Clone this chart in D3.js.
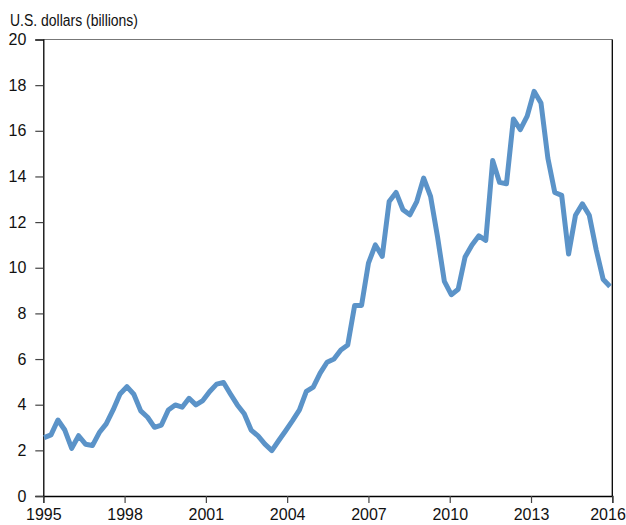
<!DOCTYPE html>
<html>
<head>
<meta charset="utf-8">
<script src="https://cdn.jsdelivr.net/npm/d3@7"></script>
<style>
  body { margin: 0; background: #fff; }
  text { font-family: "Liberation Sans Narrow", "Arial Narrow", "Liberation Sans", sans-serif; fill: #111; }
</style>
</head>
<body>
<svg id="chart" width="626" height="525"></svg>
<script>
// quarterly values, 1995Q1 onward (U.S. dollars, billions)
const values = [
  2.56, 2.68, 3.33, 2.89, 2.09, 2.64, 2.27, 2.21, 2.78, 3.16,
  3.77, 4.47, 4.79, 4.46, 3.73, 3.45, 3.01, 3.11, 3.77, 3.99,
  3.89, 4.28, 3.99, 4.18, 4.58, 4.90, 4.97, 4.47, 3.99, 3.60,
  2.89, 2.63, 2.27, 1.99, 2.43, 2.86, 3.30, 3.77, 4.58, 4.77,
  5.38, 5.86, 6.00, 6.40, 6.62, 8.35, 8.35, 10.20, 11.00, 10.50,
  12.90, 13.30, 12.54, 12.32, 12.90, 13.93, 13.13, 11.37, 9.40, 8.82,
  9.06, 10.47, 11.00, 11.40, 11.20, 14.70, 13.74, 13.68, 16.52, 16.05,
  16.64, 17.73, 17.22, 14.80, 13.30, 13.17, 10.60, 12.30, 12.80, 12.30,
  10.79, 9.50, 9.18
];
const startYear = 1995;
const quarters = values.map((v, i) => (startYear + Math.floor(i / 4)) + "Q" + (i % 4 + 1));
const yearTicks = [1995, 1998, 2001, 2004, 2007, 2010, 2013, 2016];
const valueTicks = [0, 2, 4, 6, 8, 10, 12, 14, 16, 18, 20];
const axisTitle = "U.S. dollars (billions)";

const svg = d3.select("#chart");
const plotL = 43.3, plotR = 612.3, plotT = 39.5, plotB = 496;

const x = d3.scaleLinear().domain([1995, 2016]).range([plotL, plotR]);
const xq = d3.scalePoint().domain(quarters).range([plotL + 0.8, plotR - 2.3]);
const y = d3.scaleLinear().domain([0, 20]).range([plotB, plotT]);

// frame: grey top, black right
svg.append("line")
  .attr("x1", plotL).attr("x2", plotR).attr("y1", plotT).attr("y2", plotT)
  .attr("stroke", "#777").attr("stroke-width", 1.2);
svg.append("line")
  .attr("x1", plotR).attr("x2", plotR).attr("y1", plotT).attr("y2", plotB)
  .attr("stroke", "#000").attr("stroke-width", 1.3);

const yAxis = svg.append("g")
  .attr("transform", `translate(${plotL},0)`)
  .call(d3.axisLeft(y).tickValues(valueTicks).tickSize(8).tickPadding(9));
yAxis.select(".domain").attr("stroke", "#000").attr("stroke-width", 1.3);
yAxis.selectAll(".tick line").attr("stroke", "#444").attr("stroke-width", 1.2);
yAxis.selectAll("text").style("font-size", "16px").attr("fill", "#111");

const xAxis = svg.append("g")
  .attr("transform", `translate(0,${plotB})`)
  .call(d3.axisBottom(x).tickValues(yearTicks).tickFormat(d3.format("d")).tickSize(7).tickPadding(6));
xAxis.select(".domain").attr("stroke", "#000").attr("stroke-width", 1.3);
xAxis.selectAll(".tick line").attr("stroke", "#444").attr("stroke-width", 1.2);
xAxis.selectAll("text").style("font-size", "16px").attr("fill", "#111");
// last label sits against the right edge
xAxis.selectAll(".tick").filter(d => d === 2016).select("text")
  .attr("text-anchor", "end").attr("x", 13);

// title is set in a narrow face in the original
svg.append("text")
  .attr("x", 10).attr("y", 26)
  .style("font-size", "16px")
  .attr("textLength", 128)
  .attr("lengthAdjust", "spacingAndGlyphs")
  .text(axisTitle);

const line = d3.line()
  .x((d, i) => xq(quarters[i]))
  .y(d => y(d));

svg.append("path")
  .datum(values)
  .attr("fill", "none")
  .attr("stroke", "#5b93c8")
  .attr("stroke-width", 5)
  .attr("stroke-linejoin", "round")
  .attr("d", line);
</script>
</body>
</html>
